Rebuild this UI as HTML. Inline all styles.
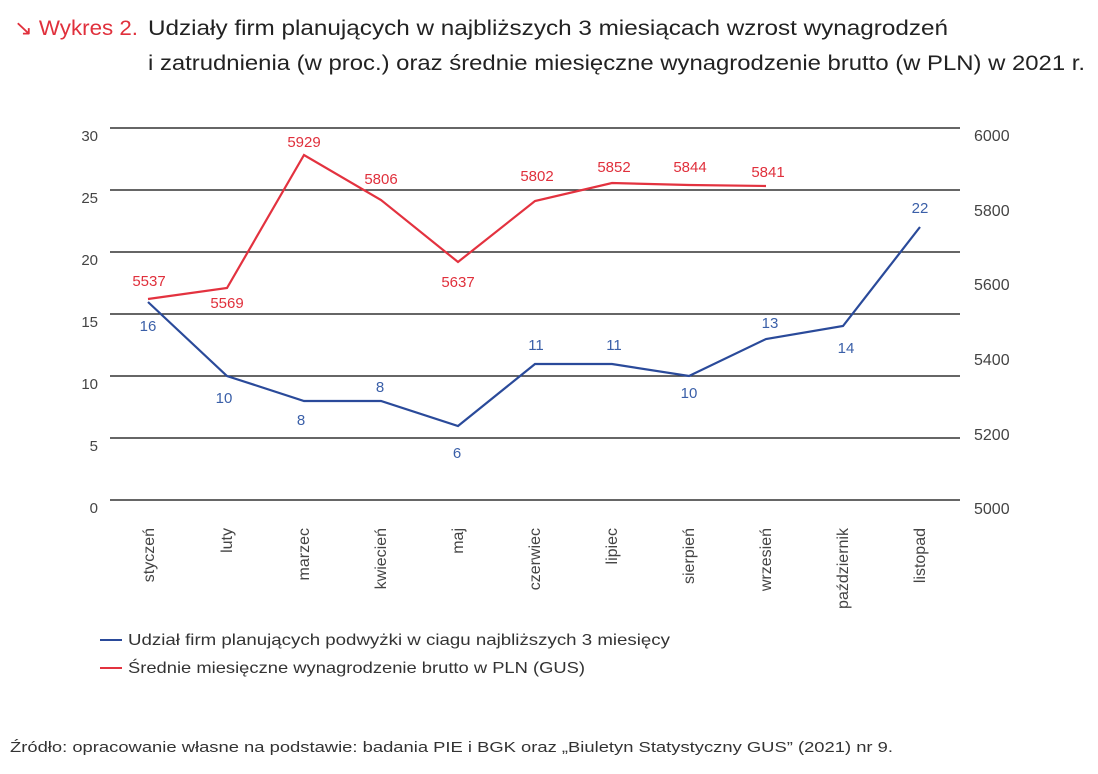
<!DOCTYPE html>
<html><head><meta charset="utf-8"><style>
body{margin:0;background:#fff;width:1098px;height:774px;overflow:hidden}
svg{display:block;font-family:"Liberation Sans",sans-serif}
</style></head><body>
<svg width="1098" height="774" viewBox="0 0 1098 774">
<text x="14" y="35" font-size="21" fill="#e0303c" textLength="124" lengthAdjust="spacingAndGlyphs">↘ Wykres 2.</text>
<text x="148" y="35" font-size="21" fill="#222" textLength="800" lengthAdjust="spacingAndGlyphs">Udziały firm planujących w najbliższych 3 miesiącach wzrost wynagrodzeń</text>
<text x="148" y="70" font-size="21" fill="#222" textLength="937" lengthAdjust="spacingAndGlyphs">i zatrudnienia (w proc.) oraz średnie miesięczne wynagrodzenie brutto (w PLN) w 2021 r.</text>
<g stroke="#333" stroke-width="1.5">
<line x1="110" x2="960" y1="128" y2="128"/><line x1="110" x2="960" y1="190" y2="190"/>
<line x1="110" x2="960" y1="252" y2="252"/><line x1="110" x2="960" y1="314" y2="314"/>
<line x1="110" x2="960" y1="376" y2="376"/><line x1="110" x2="960" y1="438" y2="438"/>
<line x1="110" x2="960" y1="500" y2="500"/>
</g>
<g font-size="15" fill="#444" text-anchor="end">
<text x="98" y="141">30</text><text x="98" y="203">25</text><text x="98" y="265">20</text>
<text x="98" y="327">15</text><text x="98" y="389">10</text><text x="98" y="451">5</text><text x="98" y="513">0</text>
</g>
<g font-size="16" fill="#444">
<text x="974" y="141">6000</text><text x="974" y="216">5800</text><text x="974" y="290">5600</text>
<text x="974" y="365">5400</text><text x="974" y="440">5200</text><text x="974" y="514">5000</text>
</g>
<g font-size="16" fill="#444" text-anchor="end">
<text transform="translate(154,528) rotate(-90)">styczeń</text>
<text transform="translate(232,528) rotate(-90)">luty</text>
<text transform="translate(309,528) rotate(-90)">marzec</text>
<text transform="translate(386,528) rotate(-90)">kwiecień</text>
<text transform="translate(463,528) rotate(-90)">maj</text>
<text transform="translate(540,528) rotate(-90)">czerwiec</text>
<text transform="translate(617,528) rotate(-90)">lipiec</text>
<text transform="translate(694,528) rotate(-90)">sierpień</text>
<text transform="translate(771,528) rotate(-90)">wrzesień</text>
<text transform="translate(848,528) rotate(-90)">październik</text>
<text transform="translate(925,528) rotate(-90)">listopad</text>
</g>
<polyline fill="none" stroke="#2a4a9a" stroke-width="2.2" points="148,302 227,376 304,401 381,401 458,426 535,364 612,364 689,376 766,339 843,326 920,227"/>
<polyline fill="none" stroke="#e3323f" stroke-width="2.2" points="148,299 227,288 304,155 381,200 458,262 535,201 612,183 689,185 766,186"/>
<g font-size="15" fill="#3a5fa8" text-anchor="middle">
<text x="148" y="331">16</text><text x="224" y="403">10</text><text x="301" y="425">8</text>
<text x="380" y="392">8</text><text x="457" y="458">6</text><text x="536" y="350">11</text>
<text x="614" y="350">11</text><text x="689" y="398">10</text><text x="770" y="328">13</text>
<text x="846" y="353">14</text><text x="920" y="213">22</text>
</g>
<g font-size="15" fill="#e0303c" text-anchor="middle">
<text x="149" y="286">5537</text><text x="227" y="308">5569</text><text x="304" y="147">5929</text>
<text x="381" y="184">5806</text><text x="458" y="287">5637</text><text x="537" y="181">5802</text>
<text x="614" y="172">5852</text><text x="690" y="172">5844</text><text x="768" y="177">5841</text>
</g>
<line x1="100" x2="122" y1="640" y2="640" stroke="#2a4a9a" stroke-width="2"/>
<line x1="100" x2="122" y1="668" y2="668" stroke="#e3323f" stroke-width="2"/>
<text x="128" y="645" font-size="16" fill="#333" textLength="542" lengthAdjust="spacingAndGlyphs">Udział firm planujących podwyżki w ciagu najbliższych 3 miesięcy</text>
<text x="128" y="673" font-size="16" fill="#333" textLength="457" lengthAdjust="spacingAndGlyphs">Średnie miesięczne wynagrodzenie brutto w PLN (GUS)</text>
<text x="10" y="752" font-size="15" fill="#333" textLength="883" lengthAdjust="spacingAndGlyphs">Źródło: opracowanie własne na podstawie: badania PIE i BGK oraz „Biuletyn Statystyczny GUS” (2021) nr 9.</text>
</svg>
</body></html>
